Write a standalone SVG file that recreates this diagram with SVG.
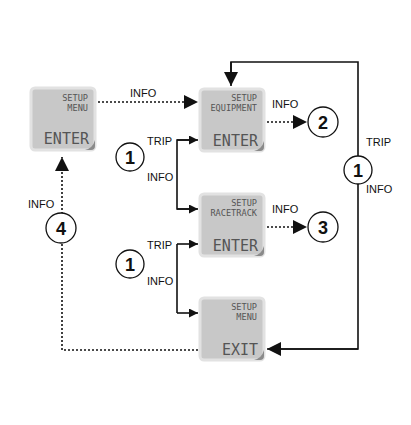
<svg xmlns="http://www.w3.org/2000/svg" width="411" height="425" viewBox="0 0 411 425">
<style>
.box{fill:#c8c8c8;stroke:#e2e2e2;stroke-width:3}
.corner{fill:#8a8a8a}
.lcds{font-family:"DejaVu Sans Mono","Liberation Mono",monospace;font-size:8.6px;fill:#555;text-anchor:end}
.lcdb{font-family:"DejaVu Sans Mono","Liberation Mono",monospace;font-size:15px;fill:#555;text-anchor:end}
.lbl{font-family:"Liberation Sans",Arial,sans-serif;font-size:11px;fill:#111}
.num{font-family:"Liberation Sans",Arial,sans-serif;font-size:18px;font-weight:bold;fill:#111;text-anchor:middle}
.circ{fill:#fff;stroke:#111;stroke-width:1.3}
.solid{fill:none;stroke:#111;stroke-width:1.6}
.dot{fill:none;stroke:#111;stroke-width:1.6;stroke-dasharray:2 2}
</style>
<defs>
<marker id="ah" viewBox="0 0 10 10" refX="10" refY="5" markerWidth="14" markerHeight="14" markerUnits="userSpaceOnUse" orient="auto"><path d="M0,0 L10,5 L0,10 z" fill="#111"/></marker>
<marker id="ahs" viewBox="0 0 10 10" refX="10" refY="5" markerWidth="9" markerHeight="9" markerUnits="userSpaceOnUse" orient="auto"><path d="M0,0 L10,5 L0,10 z" fill="#111"/></marker>
</defs>
<g id="connectors">
<path class="dot" d="M98,102 H198" marker-end="url(#ah)"/>
<text class="lbl" x="130" y="97">INFO</text>
<path class="dot" d="M267,122 H307" marker-end="url(#ah)"/>
<text class="lbl" x="272" y="108">INFO</text>
<path class="dot" d="M267,227 H307" marker-end="url(#ah)"/>
<text class="lbl" x="272" y="213">INFO</text>
<path class="solid" d="M189,140 H177 V209 H189"/>
<path class="solid" d="M177,140 H198" marker-end="url(#ahs)"/>
<path class="solid" d="M177,209 H198" marker-end="url(#ahs)"/>
<text class="lbl" x="147" y="145">TRIP</text>
<text class="lbl" x="147" y="181">INFO</text>
<path class="solid" d="M177,244 V313"/>
<path class="solid" d="M177,244 H198" marker-end="url(#ahs)"/>
<path class="solid" d="M177,313 H198" marker-end="url(#ahs)"/>
<text class="lbl" x="147" y="249">TRIP</text>
<text class="lbl" x="147" y="285">INFO</text>
<path class="solid" d="M280,349 H358 V62 H231 V72"/>
<path class="solid" d="M358,349 H267" marker-end="url(#ah)"/>
<path class="solid" d="M231,62 V86" marker-end="url(#ah)"/>
<text class="lbl" x="366" y="146">TRIP</text>
<text class="lbl" x="366" y="193">INFO</text>
<path class="dot" d="M198,350 H62 V157" marker-end="url(#ah)"/>
<text class="lbl" x="28" y="208">INFO</text>
</g>
<g id="circle1a"><circle class="circ" cx="130" cy="157" r="14"/><text class="num" x="130" y="164">1</text></g>
<g id="circle1b"><circle class="circ" cx="130" cy="264" r="14"/><text class="num" x="130" y="271">1</text></g>
<g id="circle1c"><circle class="circ" cx="358" cy="170" r="14"/><text class="num" x="358" y="177">1</text></g>
<g id="circle2"><circle class="circ" cx="323" cy="122" r="15"/><text class="num" x="323" y="129">2</text></g>
<g id="circle3"><circle class="circ" cx="323" cy="227" r="15"/><text class="num" x="323" y="234">3</text></g>
<g id="circle4"><circle class="circ" cx="61" cy="228" r="15"/><text class="num" x="61" y="235">4</text></g>
<g id="setup-menu-enter">
<rect class="box" x="31" y="88" width="64" height="62" rx="4"/>
<path class="corner" d="M95,140 L95,146 Q95,150 91,150 L85,150 Q93,148 95,140 z"/>
<text class="lcds" x="88" y="101">SETUP</text>
<text class="lcds" x="88" y="111">MENU</text>
<text class="lcdb" x="89" y="144">ENTER</text>
</g>
<g id="setup-equipment">
<rect class="box" x="200" y="89" width="64" height="62" rx="4"/>
<path class="corner" d="M264,141 L264,147 Q264,151 260,151 L254,151 Q262,149 264,141 z"/>
<text class="lcds" x="257" y="101">SETUP</text>
<text class="lcds" x="257" y="111">EQUIPMENT</text>
<text class="lcdb" x="258" y="146">ENTER</text>
</g>
<g id="setup-racetrack">
<rect class="box" x="200" y="194" width="64" height="62" rx="4"/>
<path class="corner" d="M264,246 L264,252 Q264,256 260,256 L254,256 Q262,254 264,246 z"/>
<text class="lcds" x="257" y="206">SETUP</text>
<text class="lcds" x="257" y="216">RACETRACK</text>
<text class="lcdb" x="258" y="251">ENTER</text>
</g>
<g id="setup-menu-exit">
<rect class="box" x="200" y="298" width="64" height="62" rx="4"/>
<path class="corner" d="M264,350 L264,356 Q264,360 260,360 L254,360 Q262,358 264,350 z"/>
<text class="lcds" x="257" y="310">SETUP</text>
<text class="lcds" x="257" y="320">MENU</text>
<text class="lcdb" x="258" y="355">EXIT</text>
</g>
</svg>
